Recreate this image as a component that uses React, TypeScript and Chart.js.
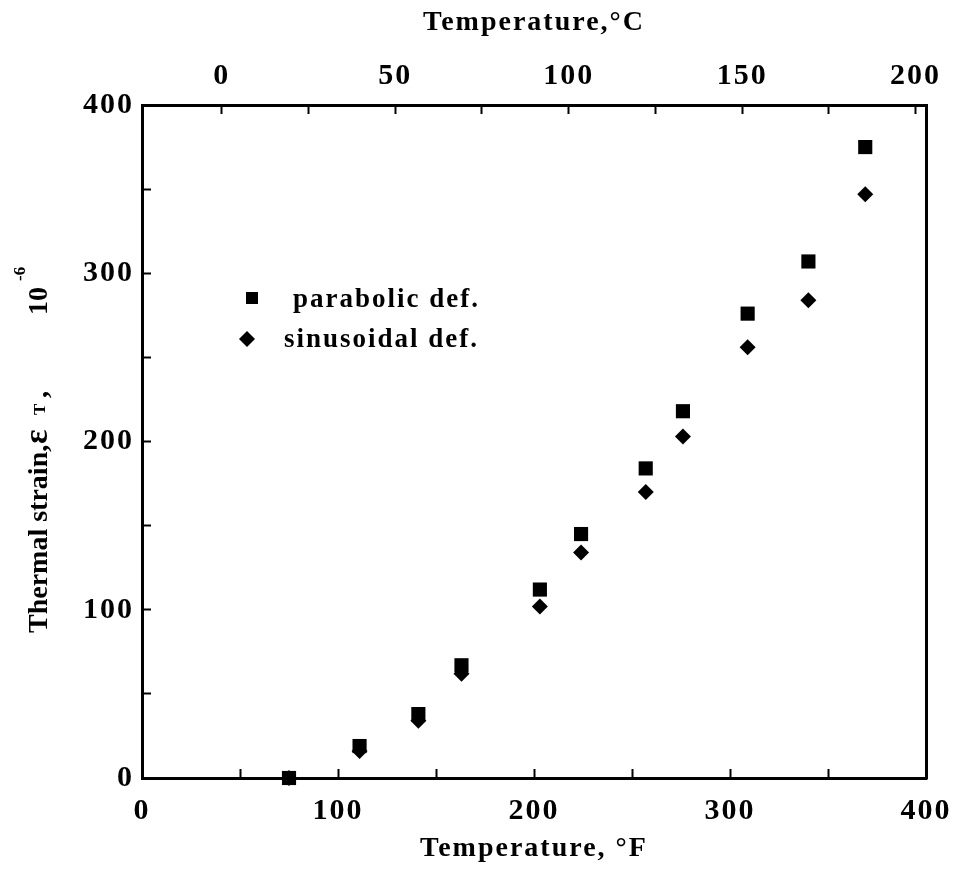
import { useEffect, useRef } from "react";
import { Chart, registerables } from "chart.js";

Chart.register(...registerables);

// Measured thermal strain (×10⁻⁶) against temperature (°F)
const tempF = [75, 111, 141, 163, 203, 224, 257, 276, 309, 340, 369];
const parabolicStrain = [0, 19, 38, 67, 112, 145, 184, 218, 276, 307, 375];
const sinusoidalStrain = [0, 16, 34, 62, 102, 134, 170, 203, 256, 284, 347];
const seriesLabels = ["parabolic def.", "sinusoidal def."];

// Axis ranges
const fRange = [0, 400];
const cRange = [-23, 203];
const strainRange = [0, 400];

const FAMILY = "'Liberation Serif', 'Times New Roman', serif";
const BLACK = "#000";

// Rotated y-axis title with subscript / superscript parts
const yTitlePlugin = {
  id: "yTitle",
  afterDraw(chart: any) {
    const ctx = chart.ctx as CanvasRenderingContext2D;
    ctx.save();
    ctx.fillStyle = BLACK;
    ctx.translate(47, 633);
    ctx.rotate(-Math.PI / 2);
    ctx.textBaseline = "alphabetic";
    ctx.textAlign = "left";
    (ctx as any).letterSpacing = "0px";
    const big = `bold 28px ${FAMILY}`;
    const eps = `bold 34px ${FAMILY}`;
    const small = `bold 17px ${FAMILY}`;
    const parts: [string, string, number, number][] = [
      ["Thermal strain,", big, 0, 0],
      ["ε", eps, 189, 0],
      ["T", small, 218, -2],
      [",", big, 235, 0],
      ["10", big, 318, 0],
      ["-6", small, 352, -22],
    ];
    for (const [t, f, x, dy] of parts) {
      ctx.font = f;
      ctx.fillText(t, x, dy);
    }
    ctx.restore();
  },
};

// Inset legend inside the plot area
const legendPlugin = {
  id: "insetLegend",
  afterDraw(chart: any) {
    const ctx = chart.ctx as CanvasRenderingContext2D;
    ctx.save();
    ctx.fillStyle = BLACK;
    (ctx as any).letterSpacing = "2px";
    ctx.font = `bold 27px ${FAMILY}`;
    ctx.textBaseline = "middle";
    ctx.textAlign = "left";
    ctx.fillRect(252 - 6, 298 - 6, 12, 12);
    ctx.fillText(chart.data.datasets[0].label, 293, 300);
    ctx.beginPath();
    ctx.moveTo(247, 339 - 8);
    ctx.lineTo(247 + 8, 339);
    ctx.lineTo(247, 339 + 8);
    ctx.lineTo(247 - 8, 339);
    ctx.closePath();
    ctx.fill();
    ctx.fillText(chart.data.datasets[1].label, 284, 340);
    ctx.restore();
  },
};

const spacingPlugin = {
  id: "spacing",
  beforeDraw(chart: any) {
    (chart.ctx as any).letterSpacing = "2px";
  },
};

export default function App() {
  const ref = useRef<HTMLCanvasElement | null>(null);

  useEffect(() => {
    if (!ref.current) return;
    const tickFont = { family: FAMILY, size: 30, weight: "bold" as const };
    const titleFont = { family: FAMILY, size: 28, weight: "bold" as const };
    const labelEvery = (step: number) => (v: any) =>
      Number.isInteger(v) && v % step === 0 ? String(v) : "";
    const noPad = (s: any) => {
      s.paddingLeft = 0;
      s.paddingRight = 0;
      s.paddingTop = 0;
      s.paddingBottom = 0;
    };

    const chart = new Chart(ref.current, {
      type: "scatter",
      data: {
        datasets: [
          {
            label: seriesLabels[0],
            data: tempF.map((t, i) => ({ x: t, y: parabolicStrain[i] })),
            pointStyle: "rect",
            pointRadius: 10,
            backgroundColor: BLACK,
            borderColor: BLACK,
            borderWidth: 0,
            clip: false,
            order: 0,
          },
          {
            label: seriesLabels[1],
            data: tempF.map((t, i) => ({ x: t, y: sinusoidalStrain[i] })),
            pointStyle: "rectRot",
            pointRadius: 8,
            backgroundColor: BLACK,
            borderColor: BLACK,
            borderWidth: 0,
            clip: false,
            order: 1,
          },
        ],
      },
      options: {
        responsive: false,
        animation: false,
        devicePixelRatio: 1,
        layout: { padding: 0 },
        plugins: {
          legend: { display: false },
          tooltip: { enabled: false },
        },
        scales: {
          x: {
            type: "linear",
            position: "bottom",
            min: fRange[0],
            max: fRange[1],
            ticks: {
              stepSize: 50,
              callback: labelEvery(100),
              font: tickFont,
              color: BLACK,
              padding: 24,
              maxRotation: 0,
              autoSkip: false,
            },
            grid: { drawOnChartArea: false, tickLength: -9, tickColor: BLACK, tickWidth: 2 },
            border: { display: true, color: BLACK, width: 3 },
            title: {
              display: true,
              text: "Temperature, °F",
              font: titleFont,
              color: BLACK,
              padding: { top: 0, bottom: 4 },
            },
            afterFit: (s: any) => {
              s.height = 92;
              noPad(s);
            },
          },
          x2: {
            type: "linear",
            position: "top",
            min: cRange[0],
            max: cRange[1],
            ticks: {
              stepSize: 25,
              includeBounds: false,
              callback: labelEvery(50),
              font: tickFont,
              color: BLACK,
              padding: 20,
              maxRotation: 0,
              autoSkip: false,
            },
            grid: { drawOnChartArea: false, tickLength: -9, tickColor: BLACK, tickWidth: 2 },
            border: { display: true, color: BLACK, width: 3 },
            title: {
              display: true,
              text: "Temperature,°C",
              font: titleFont,
              color: BLACK,
              padding: { top: 6, bottom: 0 },
            },
            afterFit: (s: any) => {
              s.height = 105;
              noPad(s);
            },
          },
          y: {
            type: "linear",
            position: "left",
            min: strainRange[0],
            max: strainRange[1],
            ticks: {
              stepSize: 50,
              callback: labelEvery(100),
              font: tickFont,
              color: BLACK,
              padding: 17,
              autoSkip: false,
            },
            grid: { drawOnChartArea: false, tickLength: -9, tickColor: BLACK, tickWidth: 2 },
            border: { display: true, color: BLACK, width: 3 },
            afterFit: (s: any) => {
              s.width = 142;
              noPad(s);
            },
          },
          y2: {
            type: "linear",
            position: "right",
            min: strainRange[0],
            max: strainRange[1],
            ticks: { display: false },
            grid: { display: false },
            border: { display: true, color: BLACK, width: 3 },
            afterFit: (s: any) => {
              s.width = 32;
              noPad(s);
            },
          },
        },
      },
      plugins: [spacingPlugin, yTitlePlugin, legendPlugin],
    });
    return () => chart.destroy();
  }, []);

  return (
    <div style={{ position: "fixed", left: 0, top: 0, width: 958, height: 870, background: "#fff" }}>
      <canvas ref={ref} width={958} height={870} />
    </div>
  );
}
